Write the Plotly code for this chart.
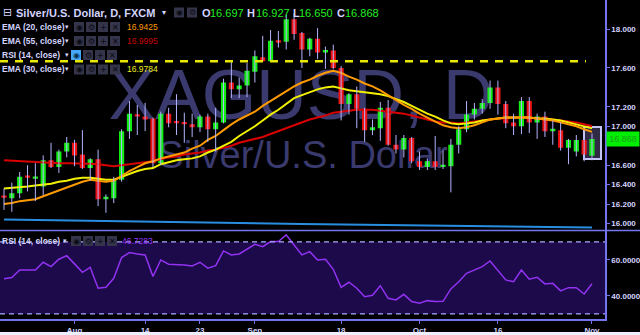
import plotly.graph_objects as go

# ---------------- data ----------------
dates = [
    "2017-07-19", "2017-07-20", "2017-07-21", "2017-07-24", "2017-07-25", "2017-07-26", "2017-07-27", "2017-07-28", "2017-07-31",
    "2017-08-01", "2017-08-02", "2017-08-03", "2017-08-04", "2017-08-07", "2017-08-08", "2017-08-09", "2017-08-10", "2017-08-11",
    "2017-08-14", "2017-08-15", "2017-08-16", "2017-08-17", "2017-08-18", "2017-08-21", "2017-08-22", "2017-08-23", "2017-08-24",
    "2017-08-25", "2017-08-28", "2017-08-29", "2017-08-30", "2017-08-31",
    "2017-09-01", "2017-09-04", "2017-09-05", "2017-09-06", "2017-09-07", "2017-09-08", "2017-09-11", "2017-09-12", "2017-09-13",
    "2017-09-14", "2017-09-15", "2017-09-18", "2017-09-19", "2017-09-20", "2017-09-21", "2017-09-22", "2017-09-25", "2017-09-26",
    "2017-09-27", "2017-09-28", "2017-09-29",
    "2017-10-02", "2017-10-03", "2017-10-04", "2017-10-05", "2017-10-06", "2017-10-09", "2017-10-10", "2017-10-11", "2017-10-12",
    "2017-10-13", "2017-10-16", "2017-10-17", "2017-10-18", "2017-10-19", "2017-10-20", "2017-10-23", "2017-10-24", "2017-10-25",
    "2017-10-26", "2017-10-27", "2017-10-30", "2017-10-31",
    "2017-11-01",
]

opens = [16.275, 16.26, 16.31, 16.48, 16.46, 16.38, 16.65, 16.58, 16.74,
         16.83, 16.71, 16.57, 16.66, 16.25, 16.26, 16.45, 16.95, 17.12,
         17.10, 17.08, 16.62, 17.13, 17.04, 17.03, 17.02, 16.99, 17.10,
         16.97, 17.04, 17.45, 17.38, 17.42,
         17.56, 17.71, 17.67, 17.88, 17.87, 18.10, 17.96, 17.79, 17.90,
         17.76, 17.78, 17.60, 17.23, 17.33, 17.18, 16.96, 16.98, 17.19,
         16.81, 16.76, 16.88,
         16.64, 16.58, 16.64, 16.58, 16.59, 16.81, 16.97, 17.12, 17.18,
         17.24, 17.40, 17.23, 17.04, 17.00, 17.26, 17.04, 17.10, 16.95,
         16.96, 16.78, 16.74, 16.86,
         16.697]
highs = [16.36, 16.42, 16.53, 16.60, 16.62, 16.70, 16.83, 16.76, 16.89,
         16.86, 16.96, 16.67, 16.76, 16.30, 16.48, 16.97, 17.26, 17.22,
         17.24, 17.09, 17.15, 17.19, 17.33, 17.14, 17.13, 17.12, 17.13,
         17.19, 17.49, 17.67, 17.50, 17.65,
         17.78, 17.93, 17.99, 17.98, 18.15, 18.16, 17.97, 17.91, 18.01,
         17.82, 17.84, 17.62, 17.34, 17.41, 17.19, 17.07, 17.25, 17.27,
         16.91, 16.91, 16.89,
         16.74, 16.67, 16.90, 16.75, 16.87, 17.00, 17.26, 17.24, 17.28,
         17.47, 17.47, 17.26, 17.13, 17.30, 17.30, 17.13, 17.15, 17.06,
         17.04, 16.87, 16.91, 16.88,
         16.927]
lows = [16.14, 16.12, 16.26, 16.33, 16.23, 16.29, 16.57, 16.52, 16.68,
        16.59, 16.56, 16.44, 16.18, 16.11, 16.21, 16.43, 16.87, 16.91,
        16.95, 16.58, 16.60, 16.99, 16.91, 16.83, 16.89, 16.94, 16.84,
        16.74, 17.03, 17.29, 17.29, 17.30,
        17.45, 17.67, 17.67, 17.81, 17.79, 17.89, 17.60, 17.72, 17.69,
        17.59, 17.59, 17.06, 17.12, 16.98, 16.84, 16.91, 16.85, 16.80,
        16.72, 16.68, 16.62,
        16.55, 16.55, 16.55, 16.56, 16.32, 16.72, 16.94, 17.07, 17.13,
        17.18, 17.12, 16.98, 16.91, 16.92, 16.93, 16.87, 16.89, 16.81,
        16.75, 16.61, 16.69, 16.64,
        16.650]
closes = [16.265, 16.31, 16.48, 16.47, 16.48, 16.65, 16.58, 16.74, 16.83,
          16.70, 16.57, 16.66, 16.25, 16.27, 16.45, 16.95, 17.13, 17.10,
          17.07, 16.62, 17.13, 17.03, 17.03, 17.02, 16.99, 17.10, 16.97,
          17.04, 17.45, 17.38, 17.42, 17.57,
          17.72, 17.67, 17.88, 17.86, 18.10, 17.95, 17.79, 17.90, 17.76,
          17.78, 17.60, 17.23, 17.33, 17.18, 16.96, 16.99, 17.19, 16.81,
          16.76, 16.88, 16.64,
          16.58, 16.64, 16.58, 16.59, 16.81, 16.97, 17.12, 17.18, 17.24,
          17.40, 17.23, 17.03, 17.00, 17.26, 17.04, 17.10, 16.95, 16.96,
          16.78, 16.86, 16.86, 16.71,
          16.868]

ema20 = [16.20, 16.21, 16.23, 16.24, 16.25, 16.28, 16.31, 16.34, 16.37,
         16.40, 16.43, 16.45, 16.44, 16.43, 16.44, 16.49, 16.54, 16.58,
         16.62, 16.64, 16.67, 16.69, 16.71, 16.73, 16.77, 16.80, 16.86,
         16.90, 16.96, 17.02, 17.07, 17.11,
         17.15, 17.21, 17.26, 17.31, 17.36, 17.41, 17.45, 17.48, 17.52,
         17.55, 17.57, 17.55, 17.51, 17.48, 17.44, 17.41, 17.37, 17.32,
         17.27, 17.22, 17.18,
         17.13, 17.09, 17.05, 17.01, 16.99, 16.98, 16.99, 17.01, 17.04,
         17.07, 17.08, 17.09, 17.09, 17.09, 17.09, 17.08, 17.07, 17.06,
         17.04, 17.02, 17.00, 16.97,
         16.9425]
ema55 = [16.65, 16.645, 16.64, 16.635, 16.63, 16.625, 16.62, 16.62, 16.62,
         16.62, 16.62, 16.615, 16.61, 16.60, 16.59, 16.60, 16.61, 16.62,
         16.63, 16.64, 16.66, 16.68, 16.69, 16.71, 16.72, 16.73, 16.75,
         16.76, 16.78, 16.80, 16.83, 16.85,
         16.87, 16.89, 16.92, 16.95, 16.98, 17.01, 17.04, 17.07, 17.09,
         17.11, 17.14, 17.15, 17.16, 17.17, 17.17, 17.17, 17.16, 17.15,
         17.14, 17.13, 17.11,
         17.09, 17.07, 17.05, 17.04, 17.04, 17.03, 17.04, 17.05, 17.06,
         17.07, 17.08, 17.08, 17.09, 17.09, 17.09, 17.08, 17.08, 17.07,
         17.06, 17.05, 17.04, 17.02,
         16.9995]
ema30 = [16.36, 16.365, 16.37, 16.38, 16.39, 16.40, 16.41, 16.43, 16.44,
         16.46, 16.47, 16.47, 16.46, 16.45, 16.45, 16.48, 16.51, 16.54,
         16.56, 16.57, 16.61, 16.63, 16.65, 16.66, 16.67, 16.69, 16.73,
         16.76, 16.80, 16.84, 16.90, 16.95,
         17.00, 17.06, 17.12, 17.17, 17.23, 17.29, 17.32, 17.35, 17.38,
         17.40, 17.41, 17.39, 17.37, 17.36, 17.35, 17.34, 17.33, 17.31,
         17.28, 17.25, 17.21,
         17.17, 17.13, 17.10, 17.06, 17.03, 17.02, 17.03, 17.04, 17.06,
         17.07, 17.08, 17.09, 17.09, 17.09, 17.09, 17.08, 17.08, 17.07,
         17.06, 17.04, 17.02, 17.00,
         16.9784]
rsi = [49.6, 50.2, 54.4, 54.4, 54.4, 58.7, 56.3, 60.4, 62.4,
       57.8, 53.1, 55.9, 44.3, 44.8, 49.8, 61.3, 64.1, 63.3,
       62.8, 50.8, 60.0, 57.6, 57.6, 57.2, 56.7, 58.7, 55.4,
       56.8, 65.0, 62.8, 63.3, 66.1,
       68.7, 67.4, 70.2, 70.2, 73.9, 68.3, 62.8, 64.6, 60.0,
       60.4, 54.8, 44.8, 47.6, 44.3, 39.6, 40.4, 45.7, 38.7,
       37.8, 40.9, 36.9,
       35.9, 37.4, 36.9, 37.0, 43.9, 47.9, 52.6, 54.4, 56.3,
       59.4, 54.1, 48.9, 47.9, 54.4, 49.3, 50.4, 46.7, 47.0,
       42.8, 44.6, 44.6, 41.1,
       46.7283]

blue_dates = ["2017-07-19", "2017-09-11", "2017-11-01"]
blue_vals = [16.04, 15.995, 15.96]

resistance_level = 17.67
price_ticks = [16.0, 16.2, 16.4, 16.6, 16.8, 17.0, 17.2, 17.6, 18.0]
price_tick_labels = ["16.000", "16.200", "16.400", "16.600", "", "17.000", "17.200", "17.600", "18.000"]
rsi_ticks = [40, 60]
rsi_bands = [30, 70]
x_tick_dates = ["2017-08-01", "2017-08-14", "2017-08-23", "2017-09-01",
                "2017-09-18", "2017-10-02", "2017-10-16", "2017-11-01"]
x_tick_labels = ["Aug", "14", "23", "Sep", "18", "Oct", "16", "Nov"]

# ---------------- style ----------------
W, H = 640, 335
ML, MR, MT, MB = 0, 35, 0, 16
PW, PH = W - ML - MR, H - MT - MB
AXIS = "#7474f0"
LAV = "#d4d4ff"
GREEN = "#11ee11"
RED = "#ee1111"
FONT = "Liberation Sans"


def px(x):
    return x / PW


def py(y):
    return (PH - y) / PH


bases = [min(o, c) for o, c in zip(opens, closes)]
heights = [max(abs(c - o), 0.024) for o, c in zip(opens, closes)]
colors = [GREEN if c >= o else RED for o, c in zip(opens, closes)]
wx, wy = [], []
for d, lo, hi in zip(dates, lows, highs):
    wx += [d, d, d]
    wy += [lo, hi, None]

fig = go.Figure()
fig.add_trace(go.Scatter(x=blue_dates, y=blue_vals, mode="lines",
                         line=dict(color="#2a8ee0", width=2), hoverinfo="skip"))
fig.add_trace(go.Scatter(x=dates, y=ema55, mode="lines", line=dict(color="#d80000", width=2)))
fig.add_trace(go.Scatter(x=dates, y=ema30, mode="lines", line=dict(color="#f2f200", width=2)))
fig.add_trace(go.Scatter(x=dates, y=ema20, mode="lines", line=dict(color="#ff9a00", width=2)))
fig.add_trace(go.Scatter(x=wx, y=wy, mode="lines", line=dict(color="#b4b4ff", width=1),
                         connectgaps=False))
fig.add_trace(go.Bar(x=dates, y=heights, base=bases, marker=dict(color=colors, line=dict(width=0)),
                     width=0.66))
fig.add_trace(go.Scatter(x=dates, y=rsi, mode="lines", yaxis="y2",
                         line=dict(color="#9232f2", width=1.5)))

shapes = []
annotations = []

# watermark (below data)
shapes.append(dict(type="rect", xref="paper", yref="paper", x0=px(0), x1=px(602),
                   y0=py(118), y1=py(58), line=dict(width=0), fillcolor="rgba(0,0,0,0)",
                   layer="below",
                   label=dict(text="XAGUSD, D", textposition="middle center",
                              font=dict(size=70, color="#3a3a6e", family=FONT))))
shapes.append(dict(type="rect", xref="paper", yref="paper", x0=px(0), x1=px(606),
                   y0=py(171), y1=py(131), line=dict(width=0), fillcolor="rgba(0,0,0,0)",
                   layer="below",
                   label=dict(text="Silver/U.S. Dollar", textposition="middle center",
                              font=dict(size=38, color="#3a3a6e", family=FONT))))

# resistance dashed line
shapes.append(dict(type="line", xref="paper", yref="y", x0=0, x1=px(586),
                   y0=resistance_level, y1=resistance_level,
                   line=dict(color="#e8e800", width=2.5, dash="8px,7px")))

# highlight box on last candle
shapes.append(dict(type="rect", xref="paper", yref="paper", x0=px(584), x1=px(601),
                   y0=py(159), y1=py(127), line=dict(color="#c4c4f4", width=2),
                   fillcolor="rgba(120,105,170,0.40)", layer="below"))

# RSI band + dashed limits
shapes.append(dict(type="rect", xref="paper", yref="y2", x0=0, x1=1, y0=rsi_bands[0], y1=rsi_bands[1],
                   line=dict(width=0), fillcolor="#1c0a4a", layer="below"))
for lv in rsi_bands:
    shapes.append(dict(type="line", xref="paper", yref="y2", x0=0, x1=1, y0=lv, y1=lv,
                       line=dict(color="#aaaaff", width=1.3, dash="5px,4px")))

# panel separator
shapes.append(dict(type="line", xref="paper", yref="paper", x0=0, x1=W / PW,
                   y0=py(230.5), y1=py(230.5), line=dict(color=AXIS, width=1.5)))
# bottom light strip
shapes.append(dict(type="rect", xref="paper", yref="paper", x0=0, x1=W / PW,
                   y0=py(335), y1=py(332), line=dict(width=0), fillcolor="#eeeeff"))


def text(xp, yp, s, color=LAV, size=10, bold=False, family=FONT, anchor="left", bg=None):
    annotations.append(dict(xref="paper", yref="paper", x=px(xp), y=py(yp), text=s,
                            showarrow=False, xanchor=anchor, yanchor="middle",
                            font=dict(color=color, size=size, family=family,
                                      weight="bold" if bold else "normal"),
                            bgcolor=bg, borderpad=0))


def icon(x0, yc, glyph, fill="#34344a", gcolor="#0c0c14"):
    shapes.append(dict(type="rect", xref="paper", yref="paper", x0=px(x0), x1=px(x0 + 10),
                       y0=py(yc + 5), y1=py(yc - 5), line=dict(width=0), fillcolor=fill))
    text(x0 + 5, yc, glyph, color=gcolor, size=8, family="DejaVu Sans", anchor="center")


# title row
text(2, 12.5, "⊟", size=11, family="DejaVu Sans")
text(15, 12.5, "Silver/U.S. Dollar, D, FXCM", size=11, bold=True)
text(161, 12.5, "▾", size=8, family="DejaVu Sans")
icon(174, 12.5, "◉")
icon(187, 12.5, "⚙")
text(201, 12.5, "O", size=11, bold=True)
text(209, 12.5, "16.697", color="#22ee22", size=11)
text(246, 12.5, "H", size=11, bold=True)
text(255, 12.5, "16.927", color="#22ee22", size=11)
text(292, 12.5, "L", size=11, bold=True)
text(298, 12.5, "16.650", color="#22ee22", size=11)
text(336, 12.5, "C", size=11, bold=True)
text(344, 12.5, "16.868", color="#22ee22", size=11)

rows = [(27, "EMA (20, close)", "16.9425", "#ff9a00"),
        (41, "EMA (55, close)", "16.9995", "#cc0000"),
        (55, "RSI (14, close)", None, None),
        (69.5, "EMA (30, close)", "16.9784", "#eeee22")]
for yc, lab, val, col in rows:
    text(1, yc, lab, size=8.5, bold=True)
    text(64, yc, "▾", size=7, family="DejaVu Sans")
    if val is None:
        icon(71, yc, "◉", fill="#45a8f8", gcolor="#0a3050")
        icon(83, yc, "⚙")
        icon(95, yc, "+")
        icon(107, yc, "✕")
    else:
        icon(74, yc, "◉")
        icon(86, yc, "⚙")
        icon(98, yc, "+")
        icon(110, yc, "✕")
        text(126, yc, val, color=col, size=8.5)

# RSI panel legend
text(1, 241, "RSI (14, close)", size=8.5, bold=True)
text(62, 241, "▾", size=7, family="DejaVu Sans")
icon(71, 241, "◉")
icon(83, 241, "⚙")
icon(95, 241, "+")
icon(107, 241, "✕")
text(121, 241, "46.7283", color="#9933ff", size=8.5)

# last price label
annotations.append(dict(xref="paper", yref="y", x=1.0, y=closes[-1], text="16.868",
                        showarrow=False, xanchor="left", yanchor="middle", xshift=1,
                        font=dict(color="#1f9f1f", size=9, family=FONT),
                        bgcolor="#00ee00", borderpad=2, width=28))

tickfont = dict(color=LAV, size=8, family=FONT, weight="bold")
fig.update_layout(
    width=W, height=H, margin=dict(l=ML, r=MR, t=MT, b=MB),
    paper_bgcolor="black", plot_bgcolor="black", showlegend=False,
    barmode="overlay", hovermode=False,
    xaxis=dict(type="category", categoryorder="array", categoryarray=dates,
               domain=[0, 1], anchor="y2", range=[-0.51, 76.66],
               tickmode="array", tickvals=x_tick_dates, ticktext=x_tick_labels,
               showline=True, linecolor=AXIS, linewidth=1.5, ticks="outside", ticklen=3,
               tickcolor=AXIS, tickfont=tickfont, showgrid=False, zeroline=False),
    yaxis=dict(domain=[py(230.5), 1], side="right", anchor="x", range=[15.928, 18.299],
               tickmode="array", tickvals=price_ticks, ticktext=price_tick_labels,
               showline=True, linecolor=AXIS, linewidth=1.5, ticks="outside", ticklen=3,
               tickcolor=AXIS, tickfont=tickfont, showgrid=False, zeroline=False),
    yaxis2=dict(domain=[0, py(231.3)], side="right", anchor="x", range=[27.2, 75.9],
                tickmode="array", tickvals=rsi_ticks, tickformat=".4f",
                showline=True, linecolor=AXIS, linewidth=1.5, ticks="outside", ticklen=3,
                tickcolor=AXIS, tickfont=tickfont, showgrid=False, zeroline=False),
    shapes=shapes, annotations=annotations,
)

fig.write_html("out.html")
